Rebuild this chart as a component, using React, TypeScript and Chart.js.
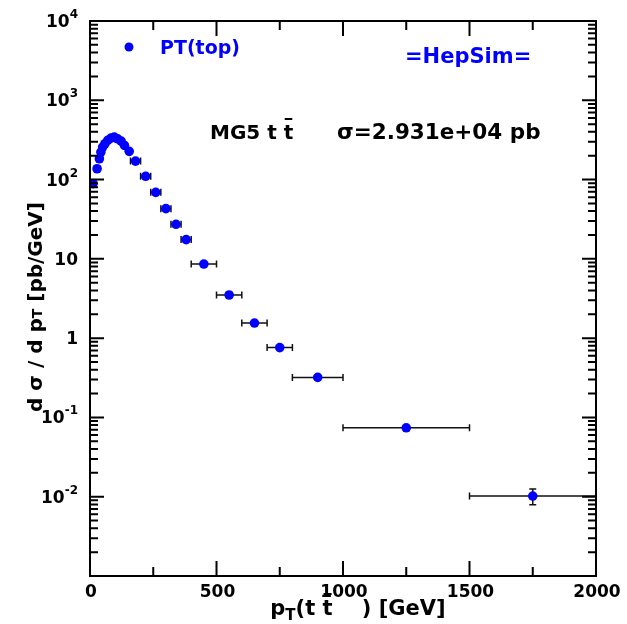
import { useEffect, useRef } from "react";
import { Chart, registerables } from "chart.js";
Chart.register(...registerables);

// ---- data ----
const ptCenters = [12, 28, 37, 43, 50, 59, 70, 83, 96, 109, 123, 136, 155, 180, 220, 260, 300, 340, 380, 450, 550, 650, 750, 900, 1250, 1750];
const dsigma = [89, 137, 183, 222, 257, 283, 312, 333, 343, 327, 305, 270, 227, 171, 110, 69, 43, 27.3, 17.5, 8.6, 3.5, 1.55, 0.76, 0.32, 0.074, 0.0102];
const xHalfWidth = [5, 5, 5, 5, 5, 5, 5, 5, 5, 5, 5, 5, 5, 20, 20, 20, 20, 20, 20, 50, 50, 50, 50, 100, 250, 250];
const yError = [0, 0, 0, 0, 0, 0, 0, 0, 0, 0, 0, 0, 0, 0, 0, 0, 0, 0, 0, 0, 0, 0, 0, 0, 0.004, 0.0023];

const xMajorTicks = [0, 500, 1000, 1500, 2000];
const xMinorTicks = [250, 750, 1250, 1750];
const xTickLabels = ["0", "500", "1000", "1500", "2000"];
const yLabelValues = [1e4, 1e3, 1e2, 10, 1, 0.1, 0.01];
const yLabelBase = ["10", "10", "10", "10", "1", "10", "10"];
const yLabelExp = ["4", "3", "2", "", "", "-1", "-2"];

const FONT = "'DejaVu Sans', sans-serif";
const BLUE = "#0000ff";

type Run = { text: string; size: number; dy?: number; overline?: boolean };

function runsWidth(ctx: CanvasRenderingContext2D, runs: Run[]) {
  let w = 0;
  for (const r of runs) {
    ctx.font = `bold ${r.size}px ${FONT}`;
    w += ctx.measureText(r.text).width;
  }
  return w;
}

function drawRuns(ctx: CanvasRenderingContext2D, runs: Run[], x: number, y: number, align: "left" | "center" | "right") {
  const total = runsWidth(ctx, runs);
  let cx = align === "left" ? x : align === "center" ? x - total / 2 : x - total;
  ctx.textAlign = "left";
  for (const r of runs) {
    ctx.font = `bold ${r.size}px ${FONT}`;
    const w = ctx.measureText(r.text).width;
    ctx.fillText(r.text, cx, y + (r.dy || 0));
    if (r.overline) {
      ctx.save();
      ctx.lineWidth = 2;
      ctx.strokeStyle = ctx.fillStyle as string;
      ctx.beginPath();
      const oy = y + (r.dy || 0) - r.size * 1.0;
      ctx.moveTo(cx + 1, oy);
      ctx.lineTo(cx + w - 1, oy);
      ctx.stroke();
      ctx.restore();
    }
    cx += w;
  }
}

const errorBarPlugin = {
  id: "errorBars",
  beforeDatasetsDraw(chart: any) {
    const ctx: CanvasRenderingContext2D = chart.ctx;
    const xs = chart.scales.x;
    const ys = chart.scales.y;
    ctx.save();
    ctx.strokeStyle = "#111";
    ctx.lineWidth = 1.5;
    ptCenters.forEach((pt, i) => {
      const y = ys.getPixelForValue(dsigma[i]);
      const x0 = xs.getPixelForValue(pt - xHalfWidth[i]);
      const x1 = xs.getPixelForValue(pt + xHalfWidth[i]);
      ctx.beginPath();
      ctx.moveTo(x0, y);
      ctx.lineTo(x1, y);
      ctx.moveTo(x0, y - 3.5);
      ctx.lineTo(x0, y + 3.5);
      ctx.moveTo(x1, y - 3.5);
      ctx.lineTo(x1, y + 3.5);
      ctx.stroke();
      if (yError[i] > 0) {
        const x = xs.getPixelForValue(pt);
        const ya = ys.getPixelForValue(dsigma[i] + yError[i]);
        const yb = ys.getPixelForValue(dsigma[i] - yError[i]);
        ctx.beginPath();
        ctx.moveTo(x, ya);
        ctx.lineTo(x, yb);
        ctx.moveTo(x - 3.5, ya);
        ctx.lineTo(x + 3.5, ya);
        ctx.moveTo(x - 3.5, yb);
        ctx.lineTo(x + 3.5, yb);
        ctx.stroke();
      }
    });
    ctx.restore();
  },
};

const framePlugin = {
  id: "frame",
  afterDraw(chart: any) {
    const ctx: CanvasRenderingContext2D = chart.ctx;
    const xs = chart.scales.x;
    const ys = chart.scales.y;
    const { left, right, top, bottom } = chart.chartArea;
    ctx.save();
    ctx.strokeStyle = "#000";
    ctx.lineWidth = 2;
    ctx.strokeRect(left, top, right - left, bottom - top);

    // y ticks (log)
    ctx.beginPath();
    for (let e = -3; e <= 4; e++) {
      for (let m = 1; m <= 9; m++) {
        const v = m * Math.pow(10, e);
        if (v > 1e4 * 1.0001) break;
        const y = ys.getPixelForValue(v);
        const len = m === 1 ? 14 : 8;
        ctx.moveTo(left, y);
        ctx.lineTo(left + len, y);
        ctx.moveTo(right, y);
        ctx.lineTo(right - len, y);
      }
    }
    // x ticks
    xMajorTicks.forEach((v) => {
      const x = xs.getPixelForValue(v);
      ctx.moveTo(x, bottom);
      ctx.lineTo(x, bottom - 15);
      ctx.moveTo(x, top);
      ctx.lineTo(x, top + 15);
    });
    xMinorTicks.forEach((v) => {
      const x = xs.getPixelForValue(v);
      ctx.moveTo(x, bottom);
      ctx.lineTo(x, bottom - 9);
      ctx.moveTo(x, top);
      ctx.lineTo(x, top + 9);
    });
    ctx.stroke();

    // x tick labels
    ctx.fillStyle = "#000";
    ctx.textBaseline = "alphabetic";
    xMajorTicks.forEach((v, i) => {
      const x = xs.getPixelForValue(v);
      drawRuns(ctx, [{ text: xTickLabels[i], size: 17 }], x + 1, 597, "center");
    });

    // y tick labels
    yLabelValues.forEach((v, i) => {
      const y = ys.getPixelForValue(v);
      const runs: Run[] = [{ text: yLabelBase[i], size: 17 }];
      if (yLabelExp[i]) runs.push({ text: yLabelExp[i], size: 12, dy: -9 });
      drawRuns(ctx, runs, 78, y + 6, "right");
    });

    // x title
    drawRuns(
      ctx,
      [
        { text: "p", size: 21 },
        { text: "T", size: 15, dy: 5 },
        { text: "(t ", size: 21 },
        { text: "t", size: 21, overline: true },
        { text: "    ) [GeV]", size: 21 },
      ],
      358,
      615,
      "center"
    );

    // y title (rotated)
    ctx.save();
    ctx.translate(42, 307);
    ctx.rotate(-Math.PI / 2);
    drawRuns(
      ctx,
      [
        { text: "d σ / d p", size: 20 },
        { text: "T", size: 14, dy: 0 },
        { text: " [pb/GeV]", size: 20 },
      ],
      0,
      0,
      "center"
    );
    ctx.restore();

    // annotations
    ctx.fillStyle = "#000";
    drawRuns(
      ctx,
      [
        { text: "MG5 t ", size: 20 },
        { text: "t", size: 20, overline: true },
      ],
      210,
      139,
      "left"
    );
    drawRuns(ctx, [{ text: "σ=2.931e+04 pb", size: 21.5 }], 337, 139, "left");
    ctx.fillStyle = BLUE;
    drawRuns(ctx, [{ text: "=HepSim=", size: 21 }], 405, 63, "left");

    // legend
    ctx.beginPath();
    ctx.arc(129, 47, 4.5, 0, Math.PI * 2);
    ctx.fill();
    drawRuns(ctx, [{ text: "PT(top)", size: 19 }], 160, 54, "left");

    ctx.restore();
  },
};

export default function App() {
  const ref = useRef<HTMLCanvasElement | null>(null);
  useEffect(() => {
    if (!ref.current) return;
    const chart = new Chart(ref.current, {
      type: "scatter",
      data: {
        datasets: [
          {
            label: "PT(top)",
            data: ptCenters.map((x, i) => ({ x, y: dsigma[i] })),
            backgroundColor: BLUE,
            borderColor: BLUE,
            pointRadius: 4.8,
            pointBorderWidth: 0,
            pointStyle: "circle",
          },
        ],
      },
      options: {
        animation: false,
        responsive: false,
        layout: { padding: { left: 90, right: 31, top: 21, bottom: 48 } },
        plugins: { legend: { display: false }, tooltip: { enabled: false } },
        scales: {
          x: { type: "linear", min: 0, max: 2000, display: false },
          y: { type: "logarithmic", min: 1e-3, max: 1e4, display: false },
        },
      },
      plugins: [errorBarPlugin, framePlugin],
    });
    return () => chart.destroy();
  }, []);
  return (
    <div style={{ position: "fixed", left: 0, top: 0, width: 627, height: 624, background: "#fff" }}>
      <canvas ref={ref} width={627} height={624} style={{ display: "block" }} />
    </div>
  );
}
